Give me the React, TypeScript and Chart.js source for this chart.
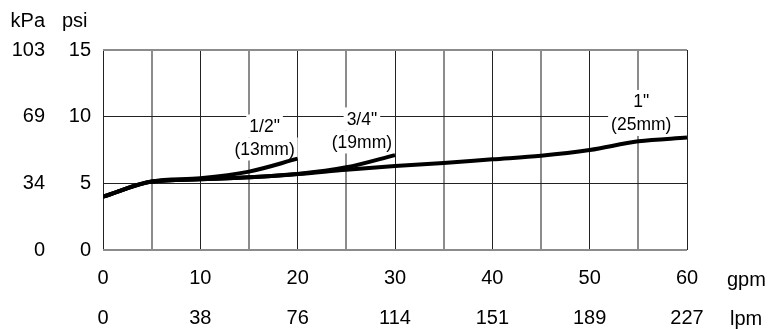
import React, { useEffect, useRef } from 'react';
import { Chart, registerables } from 'chart.js';

Chart.register(...registerables);

// ---- data ----
const gpmTickLabels = ['0', '10', '20', '30', '40', '50', '60'];
const lpmTickLabels = ['0', '38', '76', '114', '151', '189', '227'];
const psiTickLabels = ['0', '5', '10', '15'];
const kpaTickLabels = ['0', '34', '69', '103'];

const halfInchFlow = [0, 5, 10, 15, 20];
const halfInchPsi = [4.0, 5.13, 5.38, 5.88, 6.85];

const threeQuarterFlow = [0, 5, 10, 15, 20, 25, 30];
const threeQuarterPsi = [4.0, 5.13, 5.3, 5.45, 5.7, 6.2, 7.12];

const oneInchFlow = [0, 5, 10, 15, 20, 25, 30, 35, 40, 45, 50, 55, 60];
const oneInchPsi = [4.0, 5.13, 5.3, 5.45, 5.7, 6.02, 6.3, 6.52, 6.8, 7.07, 7.5, 8.15, 8.43];

const curveLabelLines = [
  ['1/2"', '(13mm)'],
  ['3/4"', '(19mm)'],
  ['1"', '(25mm)'],
];
const curveLabelGpm = [16.6, 26.6, 55.3];
const curveLabelPsi = [9.3, 9.83, 11.14];

const FONT = "'Liberation Sans', Arial, Helvetica, sans-serif";

const toPoints = (xs: number[], ys: number[]) => xs.map((x, i) => ({ x, y: ys[i] }));

const curveLabelPlugin = {
  id: 'curveLabels',
  beforeDatasetsDraw(chart: any) {
    const { ctx, scales } = chart;
    const xs = scales.x;
    const ys = scales.y;
    ctx.save();
    ctx.font = `17.5px ${FONT}`;
    ctx.textAlign = 'center';
    ctx.textBaseline = 'middle';
    curveLabelLines.forEach((lines, i) => {
      const cx = xs.getPixelForValue(curveLabelGpm[i]);
      const cy0 = ys.getPixelForValue(curveLabelPsi[i]);
      ctx.fillStyle = '#ffffff';
      lines.forEach((t, j) => {
        const w = ctx.measureText(t).width;
        ctx.fillRect(cx - w / 2 - 3, cy0 + j * 23 - 11.5, w + 6, 23);
      });
      ctx.fillStyle = '#000000';
      lines.forEach((t, j) => {
        ctx.fillText(t, cx, cy0 + j * 23 + 1);
      });
    });
    ctx.restore();
  },
};

const unitPlugin = {
  id: 'unitLabels',
  afterDraw(chart: any) {
    const { ctx, scales } = chart;
    ctx.save();
    ctx.font = `20px ${FONT}`;
    ctx.fillStyle = '#000';
    ctx.textBaseline = 'middle';
    ctx.textAlign = 'left';
    ctx.fillText('gpm', scales.x.right + 40, scales.x.top + 30);
    ctx.fillText('lpm', scales.x2.right + 43, scales.x2.top + 19.5);
    ctx.textBaseline = 'alphabetic';
    ctx.textAlign = 'right';
    ctx.fillText('kPa', scales.y2.right - 5, 27);
    ctx.textAlign = 'left';
    ctx.fillText('psi', scales.y.left + 12, 27);
    ctx.restore();
  },
};

export default function App() {
  const ref = useRef<HTMLCanvasElement | null>(null);

  useEffect(() => {
    if (!ref.current) return;
    const lineStyle = {
      borderColor: '#000',
      borderWidth: 4,
      pointRadius: 0,
      fill: false,
      cubicInterpolationMode: 'monotone' as const,
    };
    const tickFont = { family: FONT, size: 20 };
    const chart = new Chart(ref.current, {
      type: 'line',
      data: {
        datasets: [
          { label: '1"', data: toPoints(oneInchFlow, oneInchPsi), ...lineStyle },
          { label: '3/4"', data: toPoints(threeQuarterFlow, threeQuarterPsi), ...lineStyle },
          { label: '1/2"', data: toPoints(halfInchFlow, halfInchPsi), ...lineStyle },
        ],
      },
      options: {
        animation: false,
        responsive: false,
        devicePixelRatio: 1,
        layout: { padding: { top: 50, right: 83, left: 0, bottom: 0 } },
        plugins: { legend: { display: false }, tooltip: { enabled: false } },
        scales: {
          x: {
            type: 'linear',
            position: 'bottom',
            weight: 0,
            min: 0,
            max: 60,
            border: { display: false },
            grid: {
              drawTicks: false,
              color: (c: any) => (c.tick && c.tick.value % 10 === 5 ? '#8c8c8c' : '#222'),
              lineWidth: (c: any) => (c.tick && c.tick.value % 10 === 5 ? 2 : 1),
            },
            ticks: {
              stepSize: 5,
              autoSkip: false,
              maxRotation: 0,
              padding: 16,
              color: '#000',
              font: tickFont,
              callback: (v: any) => (Number(v) % 10 === 0 ? gpmTickLabels[Number(v) / 10] : ''),
            },
            afterFit: (s: any) => {
              s.height = 50;
            },
          },
          x2: {
            type: 'linear',
            position: 'bottom',
            weight: 1,
            min: 0,
            max: 60,
            border: { display: false },
            grid: { display: false, drawTicks: false },
            ticks: {
              stepSize: 10,
              autoSkip: false,
              maxRotation: 0,
              padding: 6,
              color: '#000',
              font: tickFont,
              callback: (v: any) => lpmTickLabels[Math.round(Number(v) / 10)],
            },
            afterFit: (s: any) => {
              s.height = 29;
            },
          },
          y: {
            type: 'linear',
            position: 'left',
            weight: 0,
            min: 0,
            max: 15,
            border: { display: false },
            grid: {
              drawTicks: false,
              color: (c: any) => (c.tick && (c.tick.value === 0 || c.tick.value === 15) ? '#8c8c8c' : '#222'),
              lineWidth: (c: any) => (c.tick && (c.tick.value === 0 || c.tick.value === 15) ? 2 : 1),
            },
            ticks: {
              stepSize: 5,
              padding: 12,
              color: '#000',
              font: tickFont,
              callback: (v: any) => psiTickLabels[Math.round(Number(v) / 5)],
            },
            afterFit: (s: any) => {
              s.width = 53;
            },
          },
          y2: {
            type: 'linear',
            position: 'left',
            weight: 1,
            min: 0,
            max: 15,
            border: { display: false },
            grid: { display: false, drawTicks: false },
            ticks: {
              stepSize: 5,
              padding: 5,
              color: '#000',
              font: tickFont,
              callback: (v: any) => kpaTickLabels[Math.round(Number(v) / 5)],
            },
            afterFit: (s: any) => {
              s.width = 50;
            },
          },
        },
      } as any,
      plugins: [curveLabelPlugin, unitPlugin],
    });
    return () => chart.destroy();
  }, []);

  return (
    <div style={{ position: 'absolute', left: 0, top: 0, width: 770, height: 329, background: '#fff' }}>
      <canvas ref={ref} width={770} height={329} style={{ display: 'block' }} />
    </div>
  );
}
